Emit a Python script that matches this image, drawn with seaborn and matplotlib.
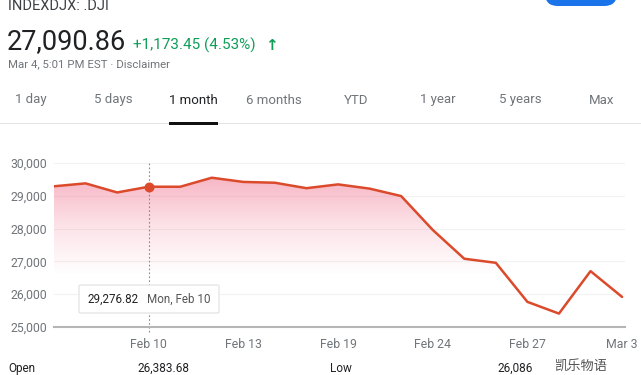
import numpy as np
import pandas as pd
import matplotlib
matplotlib.use("Agg")
import matplotlib.pyplot as plt
import seaborn as sns
from matplotlib.patches import Rectangle, FancyBboxPatch
from matplotlib.colors import LinearSegmentedColormap

# Dow Jones closes, 1 month view (trading days)
dates = ["Feb 5", "Feb 6", "Feb 7", "Feb 10", "Feb 11", "Feb 12", "Feb 13", "Feb 14",
         "Feb 18", "Feb 19", "Feb 20", "Feb 21", "Feb 24", "Feb 25", "Feb 26", "Feb 27",
         "Feb 28", "Mar 2", "Mar 3"]
closes = [29290, 29379, 29102, 29276.82, 29276, 29551, 29423, 29398,
          29232, 29348, 29219, 28992, 27960, 27081, 26957, 25766,
          25409, 26703, 25917]
tick_labels = ["Feb 10", "Feb 13", "Feb 19", "Feb 24", "Feb 27", "Mar 3"]
y_ticks = [25000, 26000, 27000, 28000, 29000, 30000]
tabs = ["1 day", "5 days", "1 month", "6 months", "YTD", "1 year", "5 years", "Max"]
tab_x = [31, 113, 193, 274, 356, 438, 520, 602]

df = pd.DataFrame({"i": np.arange(len(dates)), "date": dates, "close": closes})

sns.set_style("white")
plt.rcParams['font.family'] = ['Roboto', 'DejaVu Sans']

W, H = 641, 375
fig = plt.figure(figsize=(W / 100, H / 100), dpi=100)

def fx(px):
    return px / W

def fy(py):
    return 1 - py / H

# axes: x from 54 px (index 0) with 31.56 px/step, y 25000 at 327 px, 32.8 px per 1000
x_lo, x_hi = 0, 18.1
y_lo, y_hi = 25000, 30250
ax_left, ax_right = 54, 54 + 31.56 * x_hi
ax_bottom = 327
ax_top = 327 - (y_hi - y_lo) / 1000 * 32.8
ax = fig.add_axes([fx(ax_left), fy(ax_bottom), fx(ax_right - ax_left), (ax_bottom - ax_top) / H])

line_col = "#db4a2b"

# gradient fill under the line, fading to white around 26,800
poly = ax.fill_between(df.i, df.close, y_lo, color="none", lw=0)
cmap = LinearSegmentedColormap.from_list(
    "pinkfade", [(0.94, 0.38, 0.50, 0.0), (0.94, 0.38, 0.50, 0.18), (0.94, 0.40, 0.52, 0.48)])
grad = np.linspace(0, 1, 256).reshape(-1, 1)
img = ax.imshow(grad, cmap=cmap, aspect="auto", origin="lower",
                extent=[0, 18, 26600, 29600], zorder=1)
img.set_clip_path(poly.get_paths()[0], transform=ax.transData)

sns.lineplot(data=df, x="i", y="close", ax=ax, color=line_col, lw=1.8, zorder=3)

for y in y_ticks[1:]:
    ax.axhline(y, color="#f2f2f2", lw=0.8, zorder=0)

# hover marker and dotted guide
ax.axvline(3, ymin=-0.03, ymax=(30000 - y_lo) / (y_hi - y_lo), color="#8a8a8a",
           lw=0.8, ls=(0, (1.5, 2)), clip_on=False, zorder=2)
ax.scatter([3], [closes[3]], s=38, color=line_col, zorder=4, edgecolor=line_col)

ax.set_xlim(x_lo, x_hi)
ax.set_ylim(y_lo, y_hi)
ax.set_xticks([3, 6, 9, 12, 15, 18])
ax.set_xticklabels(tick_labels)
ax.set_yticks(y_ticks)
ax.set_yticklabels([f"{v:,}" for v in y_ticks])
ax.tick_params(axis="x", length=5, width=1, color="#b0b0b0", labelcolor="#70757a",
               labelsize=8.8, pad=3, direction="out")
ax.tick_params(axis="y", length=0, labelcolor="#70757a", labelsize=8.8, pad=5)
for s in ["top", "right", "left"]:
    ax.spines[s].set_visible(False)
ax.spines["bottom"].set_color("#b5b5b5")
ax.spines["bottom"].set_linewidth(1.5)
ax.set_xlabel("")
ax.set_ylabel("")
ax.set_facecolor("none")

# tooltip
tip = FancyBboxPatch((fx(79), fy(313)), fx(140), (313 - 285) / H,
                     boxstyle="round,pad=0,rounding_size=0.003",
                     transform=fig.transFigure, facecolor="white",
                     edgecolor="#e0e0e0", lw=0.8, zorder=10)
fig.add_artist(tip)
fig.text(fx(87), fy(299), "29,276.82", fontsize=8.4, color="#222222", va="center", zorder=11)
fig.text(fx(147), fy(299), "Mon, Feb 10", fontsize=8.4, color="#555555", va="center", zorder=11)

# header
fig.text(fx(8), fy(6), "INDEXDJX: .DJI", fontsize=10.5, color="#3c4043", va="center")
fig.text(fx(7), fy(42), "27,090.86", fontsize=19.5, color="#202124", va="center")
fig.text(fx(133), fy(45), "+1,173.45 (4.53%)", fontsize=11, color="#0f9d58", va="center")
fig.text(fx(265), fy(45), "\u2191", fontsize=11, color="#0f9d58", va="center",
         fontweight="bold", family=["DejaVu Sans"])
fig.text(fx(8), fy(64), "Mar 4, 5:01 PM EST \u00b7 Disclaimer", fontsize=8.2, color="#70757a", va="center")

for t, x in zip(tabs, tab_x):
    c = "#202124" if t == "1 month" else "#70757a"
    fig.text(fx(x), fy(100), t, fontsize=9.5, color=c, va="center", ha="center")
fig.add_artist(Rectangle((0, fy(124)), 1, 1 / H, transform=fig.transFigure,
                         facecolor="#e4e4e4", edgecolor="none"))
fig.add_artist(Rectangle((fx(169), fy(124.5)), fx(49), 2.5 / H, transform=fig.transFigure,
                         facecolor="#111111", edgecolor="none"))

# blue button peeking at top right
fig.add_artist(FancyBboxPatch((fx(545), fy(6)), fx(72), 20 / H,
                              boxstyle="round,pad=0,rounding_size=0.02",
                              transform=fig.transFigure, facecolor="#1a73e8",
                              edgecolor="none", mutation_aspect=1.7))

# bottom stats row
fig.text(fx(8), fy(362), "Open", fontsize=8.5, color="#202124", va="top")
fig.text(fx(137), fy(362), "26,383.68", fontsize=8.5, color="#202124", va="top")
fig.text(fx(330), fy(362), "Low", fontsize=8.5, color="#202124", va="top")
fig.text(fx(497), fy(362), "26,086", fontsize=8.5, color="#202124", va="top")
fig.text(fx(555), fy(360), "凯乐物语", fontsize=9.5, color="#555555", va="top",
         family=["Noto Sans CJK SC", "DejaVu Sans"])

fig.savefig("out.png", dpi=100, facecolor="white")
